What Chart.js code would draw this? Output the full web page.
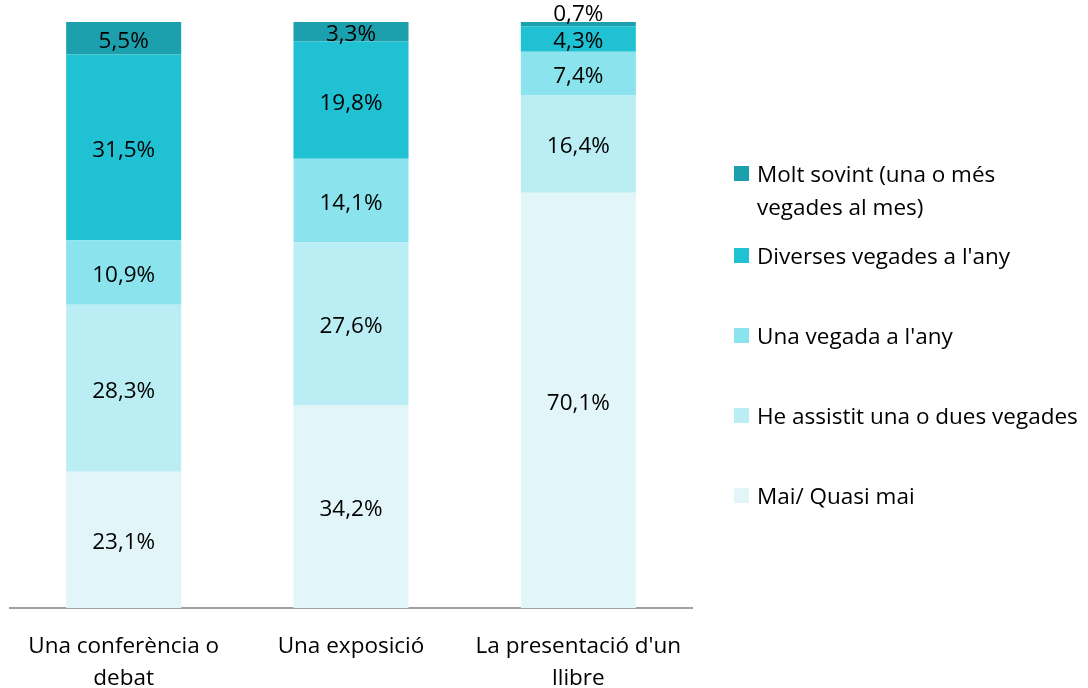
<!DOCTYPE html>
<html>
<head>
<meta charset="utf-8">
<script src="https://cdn.jsdelivr.net/npm/chart.js@4/dist/chart.umd.min.js"></script>
<style>
  html, body { margin:0; padding:0; background:#fff; }
  #wrap { position:relative; width:1088px; height:688px; overflow:hidden; }
  #chart { position:absolute; left:0; top:0; }
  .leg-item { position:absolute; left:734px; font-family:'Open Sans',sans-serif; font-size:22.5px; line-height:33px; color:#000; white-space:nowrap; }
  .leg-box { position:absolute; left:0; top:9px; width:15px; height:15px; }
  .leg-text { position:absolute; left:23px; top:0; }
</style>
</head>
<body>
<div id="wrap">
  <canvas id="chart" width="1088" height="688"></canvas>
  <div id="legend"></div>
</div>
<script>
/* ── DATOS ── */
const CATEGORIES = [['Una conferència o', 'debat'], 'Una exposició', ["La presentació d'un", 'llibre']];

const SERIES_NAMES = [
  ['Molt sovint (una o més', 'vegades al mes)'],
  ["Diverses vegades a l'any"],
  ["Una vegada a l'any"],
  ['He assistit una o dues vegades'],
  ['Mai/ Quasi mai'],
];

const MOLT_SOVINT  = [5.5, 3.3, 0.7];
const DIVERSES     = [31.5, 19.8, 4.3];
const UNA_VEGADA   = [10.9, 14.1, 7.4];
const HE_ASSISTIT  = [28.3, 27.6, 16.4];
const MAI          = [23.1, 34.2, 70.1];

const SERIES  = [MOLT_SOVINT, DIVERSES, UNA_VEGADA, HE_ASSISTIT, MAI];
const COLORES = ['#1ca0ae', '#1fc1d3', '#8ae3ed', '#baeef4', '#e2f6f9'];

const FONT = "'Open Sans', sans-serif";

// totales por categoría (barras al 100%)
const totals = CATEGORIES.map((_, i) => SERIES.reduce((s, arr) => s + arr[i], 0));

// Chart.js apila el primer dataset abajo → orden inverso
const datasets = SERIES.map((arr, k) => ({
  label: SERIES_NAMES[k].join(' '),
  raw: arr,
  data: arr.map((v, i) => v / totals[i] * 100),
  backgroundColor: COLORES[k],
  borderWidth: 0,
  categoryPercentage: 1,
  barPercentage: 0.506,
})).reverse();

/* ── ETIQUETAS ── */
const labelPlugin = {
  id: 'segLabels',
  afterDatasetsDraw(chart) {
    const ctx = chart.ctx;
    ctx.save();
    ctx.font = `22.5px ${FONT}`;
    ctx.fillStyle = '#000';
    ctx.textAlign = 'center';
    ctx.textBaseline = 'middle';
    chart.data.datasets.forEach((ds, di) => {
      chart.getDatasetMeta(di).data.forEach((bar, i) => {
        const h = Math.abs(bar.base - bar.y);
        let y = (bar.y + bar.base) / 2 + 3;
        if (h < 12) y = bar.y - 7;   // segmento muy fino: etiqueta encima
        ctx.fillText(ds.raw[i].toFixed(1).replace('.', ',') + '%', bar.x, y);
      });
    });
    ctx.restore();
  }
};

new Chart(document.getElementById('chart'), {
  type: 'bar',
  data: { labels: CATEGORIES, datasets },
  options: {
    responsive: false,
    animation: false,
    layout: { padding: { top: 22, left: 10, right: 396, bottom: 0 } },
    plugins: { legend: { display: false }, tooltip: { enabled: false } },
    scales: {
      x: {
        stacked: true,
        grid: { display: false },
        border: { display: true, color: '#a0a0a0', width: 2 },
        ticks: { color: '#000', font: { family: FONT, size: 22.5, lineHeight: 1.42 }, padding: 15, maxRotation: 0, autoSkip: false },
        afterFit: s => { s.height = 80; },
      },
      y: { stacked: true, display: false, min: 0, max: 100 },
    },
  },
  plugins: [labelPlugin],
});

/* ── LEYENDA ── */
document.getElementById('legend').innerHTML = SERIES_NAMES.map((lines, i) => `
  <div class="leg-item" style="top:${i === 0 ? 157 : 159 + i * 80}px">
    <span class="leg-box" style="background:${COLORES[i]}"></span>
    <span class="leg-text">${lines.join('<br>')}</span>
  </div>`).join('');
</script>
</body>
</html>
